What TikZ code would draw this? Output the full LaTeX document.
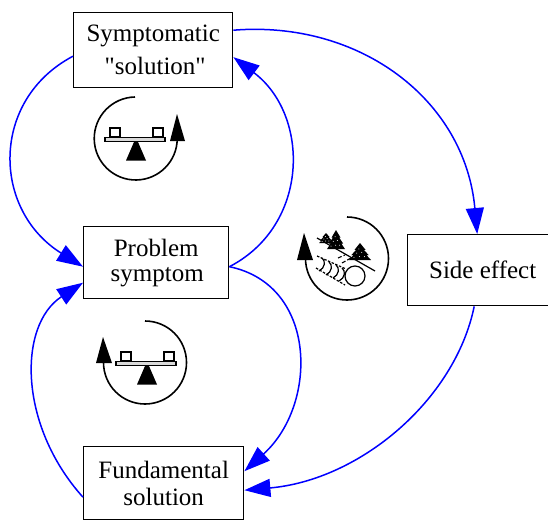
\documentclass[tikz,border=0pt]{standalone}
\usepackage{fontspec}
\newfontfamily\boxfont{Liberation Serif}
\usetikzlibrary{arrows.meta}
\definecolor{linkblue}{RGB}{0,0,255}
\tikzset{
  boxnode/.style={draw=black,line width=1.4pt,fill=white,align=center,font=\boxfont\fontsize{25}{26}\selectfont,inner sep=0pt,anchor=north west},
  link/.style={draw=linkblue,line width=1.5pt,-{Triangle[length=26pt,width=18pt,fill=linkblue]}},
  ring/.style={draw=black,line width=1.6pt},
  part/.style={draw=black,line width=1.5pt,fill=white},
  track/.style={draw=black,line width=1.2pt,dash pattern=on 2.5pt off 1.5pt},
  rib/.style={draw=black,line width=1.2pt},
  slide/.style={draw=black,line width=1.1pt,dash pattern=on 4pt off 2pt}
}
\newcommand{\seesaw}[2]{%
  \begin{scope}[shift={(#1,#2)}]
    \draw[part] (-25,-9) rectangle (-15,0);
    \draw[part] (18,-9) rectangle (28,0);
    \draw[part,line width=1.7pt,fill=black!15] (-30,0.5) rectangle (30,4.5);
    \fill[black] (-1,5) -- (3,5) -- (11,23.5) -- (-9,23.5) -- cycle;
  \end{scope}}
\newcommand{\pinetree}[4]{% x, apex y, half width, height
  \begin{scope}[shift={(#1,#2)},x=#3pt,y=-#4pt]
    \fill[black] (0,0) -- (.5,.4) -- (.35,.4) -- (.8,.72) -- (.6,.72) -- (1,1) -- (-1,1) -- (-.6,.72) -- (-.8,.72) -- (-.35,.4) -- (-.5,.4) -- cycle;
    \foreach \a/\b in {-.1/.35,.15/.55,-.3/.6,.4/.8,-.05/.8,-.55/.85}
      \fill[white] (\a,\b) circle[radius=.5pt];
  \end{scope}}
\begin{document}
\begin{tikzpicture}[x=1pt,y=-1pt]
\useasboundingbox (0,0) rectangle (548,519);
\node[boxnode,minimum width=159pt,minimum height=75pt] (sym) at (73,12) {Symptomatic\\[7pt]\hspace*{4pt}"solution"};
\node[boxnode,minimum width=145pt,minimum height=72pt] (prob) at (83,226) {Problem\\[-1pt]\hspace*{2pt}symptom};
\node[boxnode,minimum width=141pt,minimum height=71pt] (side) at (407,234) {\hspace*{9pt}Side effect};
\node[boxnode,minimum width=160pt,minimum height=73pt] (fund) at (83,446) {Fundamental\\[1pt]solution};
% connectors
\draw[link] ([yshift=-6pt]sym.west) .. controls (-10,100) and (-8,210) .. ([yshift=-4pt]prob.west);
\draw[link] ([yshift=-4pt]prob.east) .. controls (310,225) and (310,115) .. ([yshift=-7pt]sym.east);
\draw[link] ([yshift=20pt]sym.east) .. controls (360,20) and (465,100) .. ([xshift=-1pt]side.north);
\draw[link] ([xshift=-4pt]side.south) .. controls (455,400) and (360,480) .. ([yshift=-7pt]fund.east);
\draw[link] ([yshift=-4pt]prob.east) .. controls (318,285) and (318,405) .. ([yshift=12pt]fund.east);
\draw[link] ([yshift=-14pt]fund.west) .. controls (18,425) and (18,325) .. ([yshift=-20pt]prob.west);
% loop icon upper left
\draw[ring] (135,97) arc[start angle=-91,end angle=-360,radius=41.5];
\fill[black] (177,114) -- (185,141) -- (170,141) -- cycle;
\seesaw{135}{137}
% loop icon lower
\draw[ring] (145,321) arc[start angle=-90,end angle=180,radius=41.5];
\fill[black] (103,337) -- (112,363) -- (96,363) -- cycle;
\seesaw{146}{361}
% loop icon snowball
\draw[ring] (347,217) arc[start angle=-90,end angle=180,radius=41.5];
\fill[black] (304,233) -- (313,260) -- (297,260) -- cycle;
\draw[black,line width=1.2pt] (317,238) -- (375,271);
\pinetree{326}{233}{7}{10}
\pinetree{336}{230}{9}{19}
\pinetree{360}{243}{11}{17}
\draw[slide] (338,258) -- (345,255);
\draw[slide] (342,263) -- (351,258);
\draw[track] (317,256) -- (346,269);
\draw[track] (316,268) -- (345,285);
\foreach \x/\y in {322/258,329/262,336/265,342/268}
  \draw[rib] (\x,\y) .. controls (\x+4,\y+3) and (\x+3,\y+10) .. (\x-3,\y+13);
\draw[black,line width=1.2pt,fill=white] (355,276) circle[radius=10];
\end{tikzpicture}
\end{document}
